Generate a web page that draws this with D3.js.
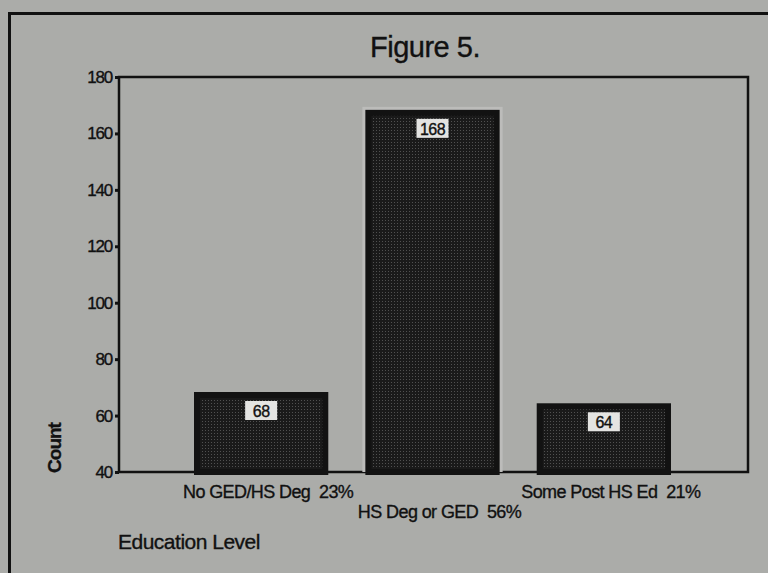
<!DOCTYPE html>
<html>
<head>
<meta charset="utf-8">
<script src="https://cdn.jsdelivr.net/npm/d3@7"></script>
<style>
  body { margin: 0; background: #abaca9; }
  svg { display: block; }
  text { font-family: "Liberation Sans", Arial, sans-serif; fill: #111; white-space: pre; stroke: #111; stroke-width: 0.35; }
</style>
</head>
<body>
<div id="chart"></div>
<script>
const width = 768, height = 573

// data
const categories = ["No GED/HS Deg  23%", "HS Deg or GED  56%", "Some Post HS Ed  21%"]
const counts = [68, 168, 64]
const yTicks = [40, 60, 80, 100, 120, 140, 160, 180]

const plot = { left: 119, right: 748, top: 77, bottom: 472 }

const svg = d3.select("#chart")
    .append("svg")
    .attr("width", width)
    .attr("height", height)

svg.append("rect")
    .attr("width", width)
    .attr("height", height)
    .attr("fill", "#abaca9")

//stipple fill for the bars
const defs = svg.append("defs")
const pat = defs.append("pattern")
    .attr("id", "stipple")
    .attr("width", 3)
    .attr("height", 3)
    .attr("patternUnits", "userSpaceOnUse")
pat.append("rect").attr("width", 3).attr("height", 3).attr("fill", "#1a1a1a")
pat.append("rect").attr("x", 1).attr("y", 1).attr("width", 1).attr("height", 1).attr("fill", "#505050")

//outer frame
svg.append("rect")
    .attr("x", 9.5)
    .attr("y", 13.5)
    .attr("width", 820)
    .attr("height", 620)
    .attr("fill", "none")
    .attr("stroke", "#111")
    .attr("stroke-width", 3)

const y = d3.scaleLinear()
    .domain([40, 180])
    .range([plot.bottom, plot.top])

const x = d3.scaleBand()
    .domain(categories)
    .range([195, 670])
    .paddingInner(0.228)
    .paddingOuter(0)

svg.append("text")
    .attr("x", 425)
    .attr("y", 57)
    .attr("text-anchor", "middle")
    .attr("font-size", 29)
    .attr("letter-spacing", -0.5)
    .text("Figure 5.")

//plot frame
svg.append("rect")
    .attr("x", plot.left)
    .attr("y", plot.top)
    .attr("width", plot.right - plot.left)
    .attr("height", plot.bottom - plot.top)
    .attr("fill", "none")
    .attr("stroke", "#111")
    .attr("stroke-width", 2.5)

//bars
const bars = svg.selectAll(".bar")
    .data(categories)
    .join("g")
    .attr("class", "bar")

bars.append("rect")
    .attr("x", d => x(d) - 4)
    .attr("y", (d, i) => y(counts[i]) - 4)
    .attr("width", x.bandwidth() + 8)
    .attr("height", (d, i) => plot.bottom - y(counts[i]) + 4)
    .attr("fill", "#bcbcba")
    .attr("opacity", (d, i) => i === 1 ? 1 : 0)

bars.append("rect")
    .attr("x", d => x(d) + 2)
    .attr("y", (d, i) => y(counts[i]) + 2)
    .attr("width", x.bandwidth() - 4)
    .attr("height", (d, i) => plot.bottom - y(counts[i]) - 2)
    .attr("fill", "url(#stipple)")
    .attr("stroke", "#121212")
    .attr("stroke-width", 6)

//value boxes
bars.append("rect")
    .attr("x", d => x(d) + x.bandwidth() / 2 - 16)
    .attr("y", (d, i) => y(counts[i]) + 8)
    .attr("width", 32)
    .attr("height", 19)
    .attr("fill", "#e4e4e2")

bars.append("text")
    .attr("x", d => x(d) + x.bandwidth() / 2)
    .attr("y", (d, i) => y(counts[i]) + 24)
    .attr("text-anchor", "middle")
    .attr("font-size", 16)
    .attr("letter-spacing", -0.5)
    .text((d, i) => counts[i])

//y axis
const yAxis = svg.append("g")
    .attr("transform", `translate(${plot.left},0)`)
    .call(d3.axisLeft(y).tickValues(yTicks).tickSize(4).tickPadding(3))
yAxis.select(".domain").remove()
yAxis.selectAll("line").attr("stroke", "#111").attr("stroke-width", 3)
yAxis.selectAll("text")
    .attr("font-size", 17)
    .attr("letter-spacing", -1.2)
    .style("font-family", "'Liberation Sans', Arial, sans-serif")
    .attr("fill", "#111")
    .attr("stroke", "#111")
    .attr("stroke-width", 0.6)

//staggered category labels
svg.selectAll(".xlab")
    .data(categories)
    .join("text")
    .attr("class", "xlab")
    .attr("x", d => x(d) + x.bandwidth() / 2 + 7)
    .attr("y", (d, i) => i % 2 ? 518 : 498)
    .attr("text-anchor", "middle")
    .attr("font-size", 18)
    .attr("letter-spacing", -0.6)
    .text(d => d)

svg.append("text")
    .attr("transform", "translate(61,448) rotate(-90)")
    .attr("text-anchor", "middle")
    .attr("font-size", 19)
    .attr("font-weight", "bold")
    .attr("letter-spacing", -1)
    .text("Count")

svg.append("text")
    .attr("x", 118)
    .attr("y", 549)
    .attr("font-size", 21)
    .attr("letter-spacing", -0.5)
    .text("Education Level")
</script>
</body>
</html>
